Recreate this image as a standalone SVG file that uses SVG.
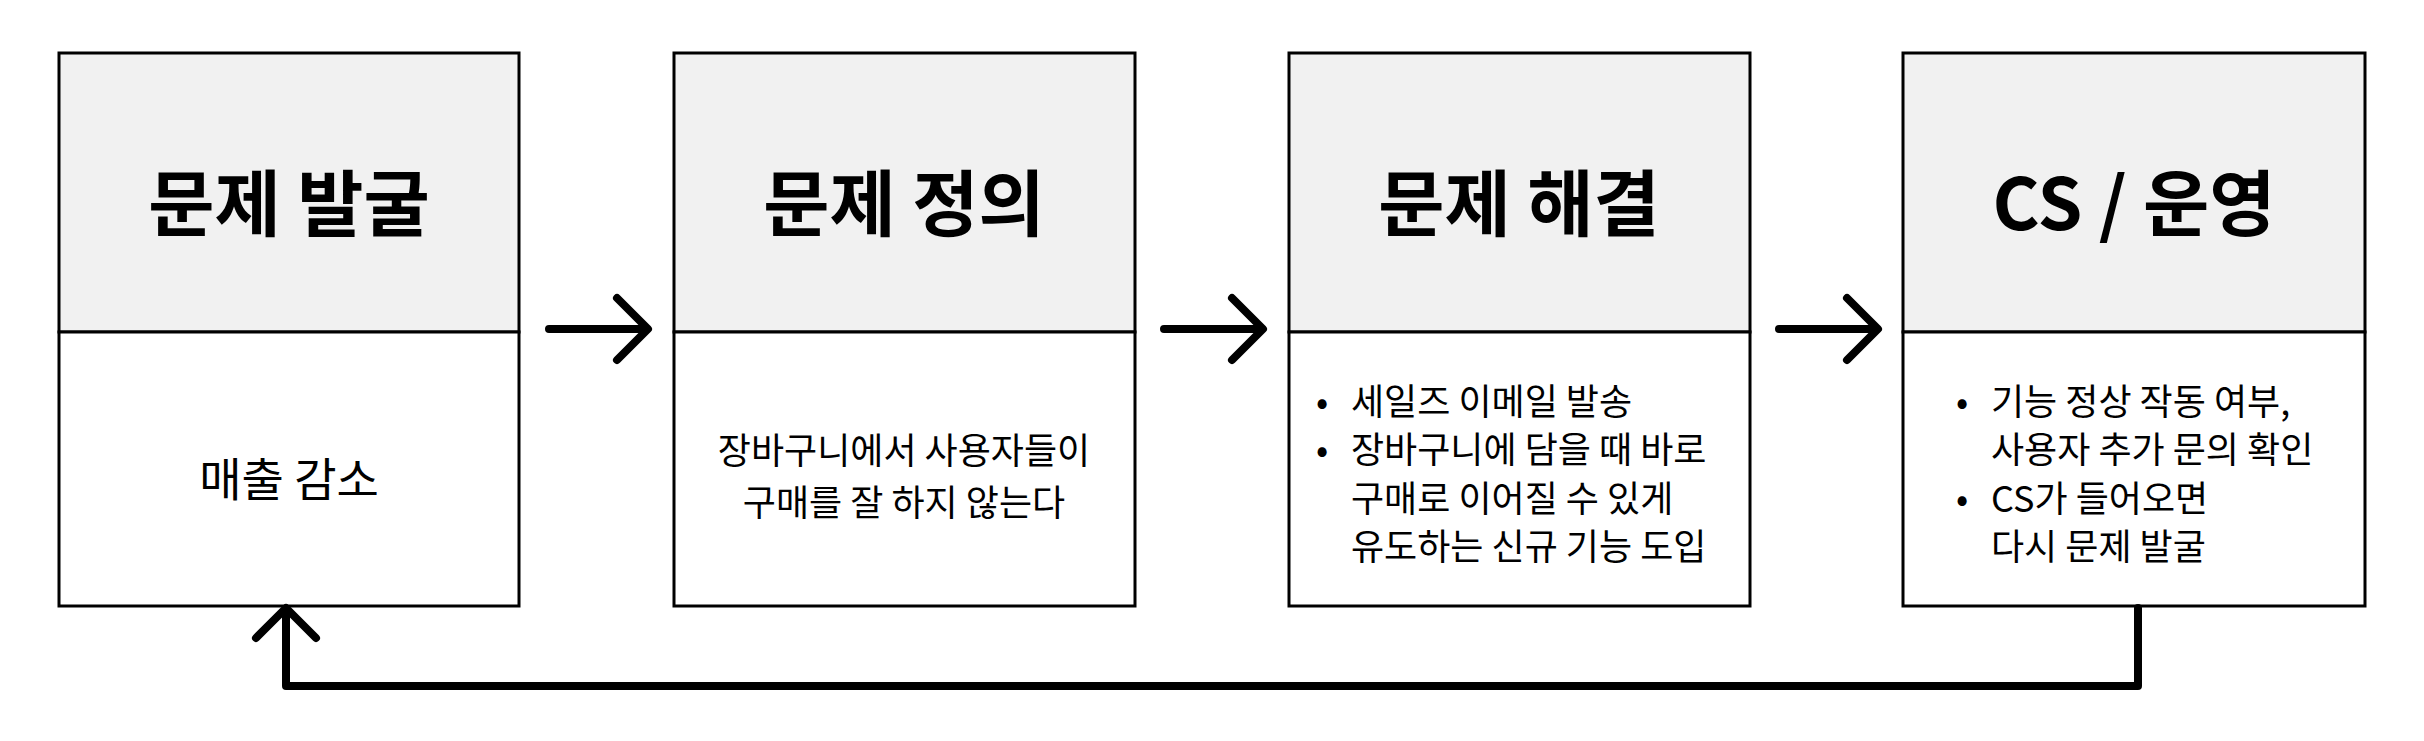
<svg xmlns="http://www.w3.org/2000/svg" width="2424" height="741" viewBox="0 0 2424 741">
<style>
.box{fill:#fff;stroke:#000;stroke-width:3}
.hd{fill:#f1f1f1;stroke:#000;stroke-width:3}
.h{font-family:"Noto Sans CJK KR","Noto Sans",sans-serif;font-weight:700;font-size:72px;text-anchor:middle;dominant-baseline:central}
.t{font-family:"Noto Sans CJK KR","Noto Sans",sans-serif;font-size:36px;dominant-baseline:central}
.c{text-anchor:middle}
.ln{fill:none;stroke:#000;stroke-width:8;stroke-linecap:round;stroke-linejoin:round}
</style>
<rect width="2424" height="741" fill="#fff"/>
<g id="n1"><rect class="hd" x="59" y="53" width="460" height="279"/><rect class="box" x="59" y="332" width="460" height="274"/>
<text class="h" x="289" y="198">문제 발굴</text><text class="t c" x="289" y="476" style="font-size:46px">매출 감소</text></g>
<g id="n2"><rect class="hd" x="674" y="53" width="461" height="279"/><rect class="box" x="674" y="332" width="461" height="274"/>
<text class="h" x="904" y="198">문제 정의</text><text class="t c" x="904" y="448">장바구니에서 사용자들이</text><text class="t c" x="904" y="500">구매를 잘 하지 않는다</text></g>
<g id="n3"><rect class="hd" x="1289" y="53" width="461" height="279"/><rect class="box" x="1289" y="332" width="461" height="274"/>
<text class="h" x="1519" y="198">문제 해결</text>
<text class="t" x="1316" y="399">•</text><text class="t" x="1351" y="399">세일즈 이메일 발송</text>
<text class="t" x="1316" y="447">•</text><text class="t" x="1351" y="447">장바구니에 담을 때 바로</text>
<text class="t" x="1351" y="496">구매로 이어질 수 있게</text>
<text class="t" x="1351" y="544">유도하는 신규 기능 도입</text></g>
<g id="n4"><rect class="hd" x="1903" y="53" width="462" height="279"/><rect class="box" x="1903" y="332" width="462" height="274"/>
<text class="h" x="2134" y="198">CS / 운영</text>
<text class="t" x="1956" y="399">•</text><text class="t" x="1991" y="399">기능 정상 작동 여부,</text>
<text class="t" x="1991" y="447">사용자 추가 문의 확인</text>
<text class="t" x="1956" y="496">•</text><text class="t" x="1991" y="496">CS가 들어오면</text>
<text class="t" x="1991" y="544">다시 문제 발굴</text></g>
<g id="connectors">
<path class="ln" d="M549 329H647M617 298L648 329L617 360"/>
<path class="ln" d="M1164 329H1262M1232 298L1263 329L1232 360"/>
<path class="ln" d="M1779 329H1877M1847 298L1878 329L1847 360"/>
<path class="ln" d="M2138 608V686H286V612M256 638L286 608L316 638"/>
</g>
</svg>
